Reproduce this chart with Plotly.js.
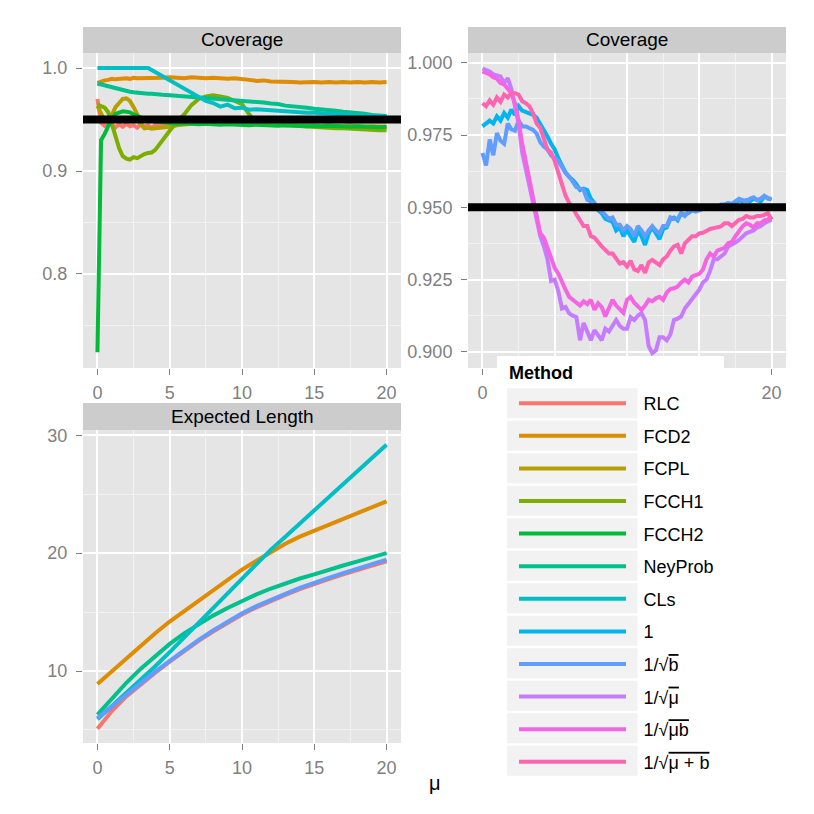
<!DOCTYPE html>
<html><head><meta charset="utf-8">
<script src="https://cdn.plot.ly/plotly-3.0.1.min.js"></script>
<style>html,body{margin:0;padding:0;background:#fff}#chart{width:814px;height:814px}</style>
</head><body><div id="chart"></div>
<script>
// ---------------- DATA ----------------
const METHODS = ['RLC','FCD2','FCPL','FCCH1','FCCH2','NeyProb','CLs','1','1/√b','1/√μ','1/√μb','1/√(μ+b)'];
const COLORS  = ['#F8766D','#DE8C00','#B79F00','#7CAE00','#00BA38','#00C08B','#00BFC4','#00B4F0','#619CFF','#C77CFF','#F564E3','#FF64B0'];
const NOMINAL = 0.95;
const X_TICKS = [0,5,10,15,20];
const X_TICKTEXT_TR = ['0','','','','20'];   // middle labels are hidden behind the legend in the original

// Coverage, panel 1 (mu grid)
const MU_TL = [0,0.25,0.5,0.75,1,1.25,1.5,1.75,2,2.25,2.5,2.75,3,3.25,3.5,3.75,4,
  4.5,5,5.5,6,6.5,7,7.5,8,8.5,9,9.5,10,10.5,11,11.5,12,12.5,13,13.5,14,14.5,15,15.5,16,16.5,17,17.5,18,18.5,19,19.5,20];
const COV_RLC = [0.970,0.947,0.944,0.946,0.9445,0.9425,0.9455,0.943,0.946,0.9435,0.9445,0.942,0.9455,0.943,0.9445,0.942,0.9445,
  0.9435,0.9465,0.947,0.9475,0.948,0.9475,0.948,0.9485,0.948,0.9475,0.948,0.9485,0.948,0.9475,0.948,0.9485,0.948,0.9475,0.948,0.9485,0.948,0.948,0.9475,0.948,0.9485,0.948,0.9475,0.948,0.948,0.9475,0.948,0.948];
const COV_FCD2 = [0.9855,0.987,0.988,0.9885,0.9895,0.989,0.9895,0.9895,0.990,0.9895,0.9905,0.990,0.990,0.9905,0.9905,0.990,0.990,
  0.9905,0.991,0.9905,0.990,0.991,0.9905,0.990,0.9905,0.990,0.9895,0.990,0.9895,0.9885,0.9875,0.988,0.987,0.987,0.9865,0.9865,0.986,0.9865,0.9865,0.986,0.9865,0.986,0.9865,0.986,0.9865,0.986,0.9865,0.986,0.9865];
const COV_FCPL = [0.963,0.956,0.949,0.947,0.955,0.962,0.966,0.970,0.9705,0.968,0.962,0.955,0.945,0.9415,0.942,0.941,0.9415,
  0.942,0.943,0.9445,0.945,0.946,0.9465,0.946,0.9465,0.947,0.9465,0.946,0.9465,0.946,0.9455,0.946,0.9455,0.945,0.9455,0.945,0.9445,0.945,0.9445,0.944,0.9445,0.944,0.9435,0.944,0.9435,0.943,0.9435,0.943,0.943];
const COV_FCCH1 = [0.9645,0.963,0.9615,0.957,0.945,0.934,0.922,0.9145,0.912,0.911,0.9135,0.9125,0.915,0.9165,0.9175,0.918,0.9205,
  0.929,0.939,0.9476,0.955,0.964,0.970,0.9725,0.9735,0.9725,0.971,0.968,0.965,0.955,0.947,0.946,0.9455,0.945,0.9445,0.944,0.9435,0.943,0.9425,0.9425,0.942,0.9415,0.9415,0.941,0.9405,0.9405,0.940,0.9395,0.9395];
const COV_FCCH2 = [0.724,0.93,0.936,0.944,0.951,0.9555,0.957,0.958,0.9575,0.957,0.955,0.9535,0.951,0.950,0.949,0.9485,0.948,
  0.947,0.9465,0.946,0.9465,0.946,0.9455,0.946,0.9455,0.945,0.9455,0.945,0.945,0.9445,0.945,0.9445,0.9445,0.944,0.9445,0.944,0.944,0.9435,0.944,0.9435,0.944,0.9435,0.9435,0.943,0.9435,0.943,0.943,0.9425,0.943];
const COV_NEYPROB = [0.985,0.984,0.983,0.982,0.981,0.980,0.979,0.978,0.9775,0.977,0.9765,0.976,0.976,0.9755,0.975,0.975,0.9745,
  0.974,0.9735,0.973,0.9725,0.972,0.972,0.971,0.9705,0.970,0.9695,0.969,0.9685,0.968,0.967,0.9665,0.9655,0.965,0.9635,0.963,0.962,0.9615,0.9605,0.960,0.959,0.9585,0.9575,0.957,0.956,0.9555,0.9545,0.954,0.9535];
const COV_CLS = [1,1,1,1,1,1,1,1,1,1,1,1,1,1,1,0.998,0.996,
  0.992,0.9875,0.983,0.979,0.975,0.971,0.968,0.966,0.9625,0.9645,0.961,0.9615,0.9595,0.960,0.9595,0.959,0.958,0.958,0.957,0.957,0.9565,0.9566,0.956,0.9555,0.955,0.955,0.9547,0.954,0.954,0.9535,0.9535,0.953];

// Coverage, panel 2 (mu grid)
const MU_TR = [0,0.25,0.5,0.75,1,1.25,1.5,1.75,2,2.25,2.5,2.75,3,3.25,3.5,3.75,4,4.25,4.5,4.75,
  5,5.25,5.5,5.75,6,6.25,6.5,6.75,7,7.25,7.5,7.75,8,8.25,8.5,8.75,9,9.25,9.5,9.75,
  10,10.25,10.5,10.75,11,11.25,11.5,11.75,12,12.25,12.5,12.75,13,13.25,13.5,13.75,14,14.25,14.5,14.75,
  15,15.25,15.5,15.75,16,16.25,16.5,16.75,17,17.25,17.5,17.75,18,18.25,18.5,18.75,19,19.25,19.5,19.75,20];
const COV_ONE = [0.978,0.979,0.980,0.979,0.9815,0.980,0.9826,0.981,0.9838,0.982,
  0.985,0.9835,0.983,0.9825,0.982,0.981,0.979,0.977,0.9745,0.972,
  0.970,0.967,0.9645,0.962,0.9605,0.9595,0.958,0.956,0.9565,0.956,
  0.953,0.9515,0.949,0.948,0.946,0.9455,0.945,0.942,0.943,0.940,
  0.942,0.940,0.938,0.942,0.940,0.937,0.941,0.943,0.941,0.939,
  0.9425,0.943,0.946,0.9465,0.9455,0.948,0.9475,0.948,0.949,0.949,
  0.949,0.9495,0.9497,0.9495,0.950,0.950,0.9505,0.951,0.9514,0.951,
  0.9515,0.9525,0.952,0.9525,0.952,0.953,0.9525,0.952,0.9538,0.953,
  0.9526];
const COV_INV_SQRT_B = [0.9688,0.9645,0.9735,0.968,0.9757,0.973,0.972,0.979,0.977,0.9765,
  0.980,0.978,0.978,0.9775,0.9768,0.9755,0.9725,0.971,0.970,0.968,
  0.967,0.966,0.964,0.962,0.9607,0.959,0.957,0.9565,0.956,0.9526,
  0.952,0.9514,0.950,0.9485,0.9475,0.946,0.9465,0.944,0.944,0.942,
  0.9435,0.9425,0.940,0.9435,0.942,0.940,0.942,0.9435,0.942,0.941,
  0.9435,0.9435,0.9465,0.946,0.946,0.948,0.947,0.9485,0.949,0.9485,
  0.949,0.9495,0.9495,0.950,0.9505,0.950,0.951,0.951,0.9515,0.9512,
  0.952,0.953,0.9525,0.952,0.953,0.9535,0.9525,0.953,0.954,0.953,
  0.953];
const COV_INV_SQRT_MU = [0.998,0.9975,0.997,0.996,0.9955,0.9953,0.993,0.9947,0.991,0.985,
  0.979,0.969,0.9635,0.958,0.951,0.946,0.940,0.9365,0.932,0.9245,
  0.925,0.921,0.915,0.9155,0.9133,0.9125,0.912,0.904,0.910,0.907,
  0.904,0.9075,0.906,0.904,0.908,0.907,0.909,0.911,0.909,0.908,
  0.908,0.912,0.911,0.9125,0.9134,0.911,0.902,0.8995,0.9005,0.905,
  0.905,0.904,0.906,0.911,0.9115,0.9122,0.915,0.9165,0.918,0.920,
  0.9215,0.924,0.925,0.928,0.932,0.932,0.933,0.934,0.9364,0.937,
  0.9378,0.9387,0.940,0.941,0.9415,0.942,0.943,0.9435,0.9445,0.945,
  0.9457];
const COV_INV_SQRT_MUB = [0.997,0.9965,0.996,0.995,0.9945,0.993,0.9925,0.991,0.9895,0.986,
  0.980,0.972,0.966,0.960,0.953,0.9475,0.941,0.9395,0.936,0.932,
  0.929,0.927,0.924,0.9215,0.919,0.918,0.917,0.916,0.9175,0.9165,
  0.918,0.9145,0.9168,0.9155,0.9122,0.915,0.918,0.916,0.9145,0.9135,
  0.918,0.919,0.917,0.9155,0.9145,0.916,0.918,0.9175,0.9185,0.919,
  0.918,0.9205,0.9217,0.922,0.9226,0.924,0.925,0.924,0.926,0.9265,
  0.927,0.9284,0.932,0.934,0.933,0.935,0.9355,0.936,0.9376,0.938,
  0.940,0.942,0.9434,0.9445,0.944,0.943,0.9445,0.9445,0.9455,0.9457,
  0.947];
const COV_INV_SQRT_MU_PLUS_B = [0.986,0.985,0.987,0.9855,0.988,0.9865,0.989,0.988,0.9895,0.9895,
  0.989,0.9867,0.986,0.985,0.9825,0.979,0.9775,0.9734,0.970,0.969,
  0.966,0.962,0.9584,0.954,0.9515,0.950,0.9475,0.9455,0.9435,0.9435,
  0.940,0.9395,0.9378,0.9365,0.9353,0.934,0.934,0.932,0.9305,0.931,
  0.9295,0.9315,0.9285,0.928,0.930,0.9273,0.931,0.9318,0.931,0.930,
  0.932,0.933,0.935,0.9365,0.937,0.934,0.9375,0.9387,0.940,0.940,
  0.941,0.9412,0.942,0.9425,0.9428,0.943,0.9434,0.9445,0.9445,0.9435,
  0.9445,0.9457,0.946,0.947,0.9465,0.9465,0.947,0.947,0.9474,0.948,
  0.9457];

// Expected length (mu grid)
const MU_EL = [0,1,2,3,4,5,6,7,8,9,10,11,12,13,14,15,16,17,18,19,20];
const EL_RLC = [5.1,6.6,7.85,8.9,9.85,10.8,11.7,12.55,13.35,14.1,14.8,15.4,15.95,16.45,16.95,17.4,17.8,18.2,18.6,18.95,19.3];
const EL_FCD2 = [8.9,10.0,11.1,12.1,13.2,14.2,15.1,16.0,16.9,17.8,18.6,19.35,20.1,20.8,21.4,21.9,22.4,22.95,23.45,23.95,24.4];
const EL_NEYPROB = [6.3,7.7,9.0,10.2,11.3,12.3,13.2,14.0,14.7,15.35,15.95,16.5,17.0,17.45,17.85,18.2,18.6,18.95,19.3,19.65,20.0];
const EL_CLS = [5.9,7.0,8.1,9.2,10.4,11.6,12.85,14.1,15.35,16.6,17.8,19.0,20.3,21.4,22.5,23.6,24.7,25.9,27.0,28.1,29.2];
const EL_INV_SQRT_B = [6.0,7.0,8.0,9.0,9.95,10.85,11.8,12.65,13.45,14.2,14.9,15.5,16.05,16.55,17.05,17.5,17.9,18.3,18.7,19.1,19.45];

const PANEL1 = {'RLC':COV_RLC,'FCD2':COV_FCD2,'FCPL':COV_FCPL,'FCCH1':COV_FCCH1,'FCCH2':COV_FCCH2,'NeyProb':COV_NEYPROB,'CLs':COV_CLS};
const PANEL2 = {'1':COV_ONE,'1/√b':COV_INV_SQRT_B,'1/√μ':COV_INV_SQRT_MU,'1/√μb':COV_INV_SQRT_MUB,'1/√(μ+b)':COV_INV_SQRT_MU_PLUS_B};
const PANEL3 = {'RLC':EL_RLC,'FCD2':EL_FCD2,'NeyProb':EL_NEYPROB,'CLs':EL_CLS,'1/√b':EL_INV_SQRT_B};

// ---------------- RENDER ----------------
const FONT = 'Liberation Sans, Arial, Helvetica, sans-serif';
const W = 814;
const px = v => v / W;
const py = v => 1 - v / W;
const OL = s => '<span style="text-decoration:overline">' + s + '</span>';
const PAD = '\u2002\u2009';
const DISPLAY = {'1/√b':'1/√' + OL('b'), '1/√μ':'1/√' + OL('μ'), '1/√μb':'1/√' + OL('μb'), '1/√(μ+b)':'1/√' + OL('μ + b')};
const colorOf = m => COLORS[METHODS.indexOf(m)];

const traces = [];
function addPanel(panel, mu, xa, ya, legend) {
  METHODS.forEach(m => {
    if (!(m in panel)) return;
    traces.push({
      x: mu, y: panel[m], xaxis: xa, yaxis: ya, type: 'scatter', mode: 'lines',
      name: PAD + (DISPLAY[m] || m), legendgroup: m, showlegend: legend,
      line: {color: colorOf(m), width: 4}, hoverinfo: 'skip'
    });
  });
}
addPanel(PANEL1, MU_TL, 'x', 'y', true);
addPanel(PANEL2, MU_TR, 'x2', 'y2', true);
addPanel(PANEL3, MU_EL, 'x3', 'y3', false);

const tickGrey = '#7F7F7F';
function xax(domain, anchor, ticktext) {
  const a = {domain: domain, anchor: anchor, range: [-1, 21], tickvals: X_TICKS, ticks: 'outside', ticklen: 6,
    tickcolor: tickGrey, tickwidth: 1, tickfont: {size: 18, color: tickGrey, family: FONT},
    showgrid: true, gridcolor: '#FFFFFF', gridwidth: 2, zeroline: false, showline: false,
    minor: {tickvals: [2.5,7.5,12.5,17.5], showgrid: true, gridcolor: '#F2F2F2', gridwidth: 1, ticks: ''},
    fixedrange: true, ticklabelstandoff: 2};
  if (ticktext) a.ticktext = ticktext;
  return a;
}
function yax(domain, anchor, range, ticks, minor, fmt) {
  return {domain: domain, anchor: anchor, range: range, tickvals: ticks, tickformat: fmt, ticks: 'outside', ticklen: 6,
    tickcolor: tickGrey, tickwidth: 1, tickfont: {size: 18, color: tickGrey, family: FONT},
    showgrid: true, gridcolor: '#FFFFFF', gridwidth: 2, zeroline: false, showline: false,
    minor: {tickvals: minor, showgrid: true, gridcolor: '#F2F2F2', gridwidth: 1, ticks: ''},
    fixedrange: true, ticklabelstandoff: 5};
}

const shapes = [];
const annotations = [];
function strip(x0, x1, y0, y1, text) {
  shapes.push({type: 'rect', xref: 'paper', yref: 'paper', x0: px(x0), x1: px(x1), y0: py(y1), y1: py(y0),
    fillcolor: '#CCCCCC', line: {width: 0}, layer: 'below'});
  annotations.push({xref: 'paper', yref: 'paper', x: px((x0 + x1) / 2), y: py((y0 + y1) / 2), text: text,
    showarrow: false, xanchor: 'center', yanchor: 'middle', font: {size: 19, color: '#000', family: FONT}});
}
strip(83, 401, 27, 53, 'Coverage');
strip(468, 786, 27, 53, 'Coverage');
strip(83, 401, 403, 430, 'Expected Length');

shapes.push({type: 'line', xref: 'x domain', yref: 'y', x0: 0, x1: 1, y0: NOMINAL, y1: NOMINAL, line: {color: '#000', width: 8}, layer: 'above'});
shapes.push({type: 'line', xref: 'x2 domain', yref: 'y2', x0: 0, x1: 1, y0: NOMINAL, y1: NOMINAL, line: {color: '#000', width: 8}, layer: 'above'});

// legend background + key boxes
shapes.push({type: 'rect', xref: 'paper', yref: 'paper', x0: px(497), x1: px(724), y0: py(781), y1: py(356),
  fillcolor: '#FFFFFF', line: {width: 0}, layer: 'above'});
METHODS.forEach((m, i) => {
  const c = 403.3 + 32.5 * i;
  shapes.push({type: 'rect', xref: 'paper', yref: 'paper', x0: px(507), x1: px(637.5), y0: py(c + 15), y1: py(c - 15),
    fillcolor: '#F2F2F2', line: {width: 0}, layer: 'above'});
});
annotations.push({xref: 'paper', yref: 'paper', x: px(507), y: py(373), text: '<b>Method</b>', showarrow: false,
  xanchor: 'left', yanchor: 'middle', font: {size: 18, color: '#000', family: FONT}});

annotations.push({xref: 'paper', yref: 'paper', x: px(434.5), y: py(783), text: 'μ', showarrow: false,
  xanchor: 'center', yanchor: 'middle', font: {size: 20, color: '#000', family: FONT}});

const layout = {
  width: 814, height: 814, margin: {l: 0, r: 0, t: 0, b: 0},
  paper_bgcolor: '#FFFFFF', plot_bgcolor: '#E5E5E5',
  font: {family: FONT, size: 18, color: '#000'},
  xaxis: xax([px(83), px(401)], 'y'),
  yaxis: yax([py(368), py(53)], 'x', [0.7087, 1.0146], [0.8, 0.9, 1.0], [0.75, 0.85, 0.95], '.1f'),
  xaxis2: xax([px(468), px(786)], 'y2', X_TICKTEXT_TR),
  yaxis2: yax([py(368), py(53)], 'x2', [0.8944, 1.0034], [0.9, 0.925, 0.95, 0.975, 1.0], [0.9125, 0.9375, 0.9625, 0.9875], '.3f'),
  xaxis3: xax([px(83), px(401)], 'y3'),
  yaxis3: yax([py(743), py(430)], 'x3', [3.89, 30.45], [10, 20, 30], [5, 15, 25], 'd'),
  showlegend: true,
  legend: {x: px(514), y: py(385), xanchor: 'left', yanchor: 'top', bgcolor: 'rgba(0,0,0,0)', borderwidth: 0,
    font: {size: 18, color: '#000', family: FONT}, itemwidth: 107, tracegroupgap: 6.2, traceorder: 'grouped',
    itemclick: false, itemdoubleclick: false},
  shapes: shapes, annotations: annotations
};

Plotly.newPlot('chart', traces, layout, {displayModeBar: false, staticPlot: true});
</script></body></html>
